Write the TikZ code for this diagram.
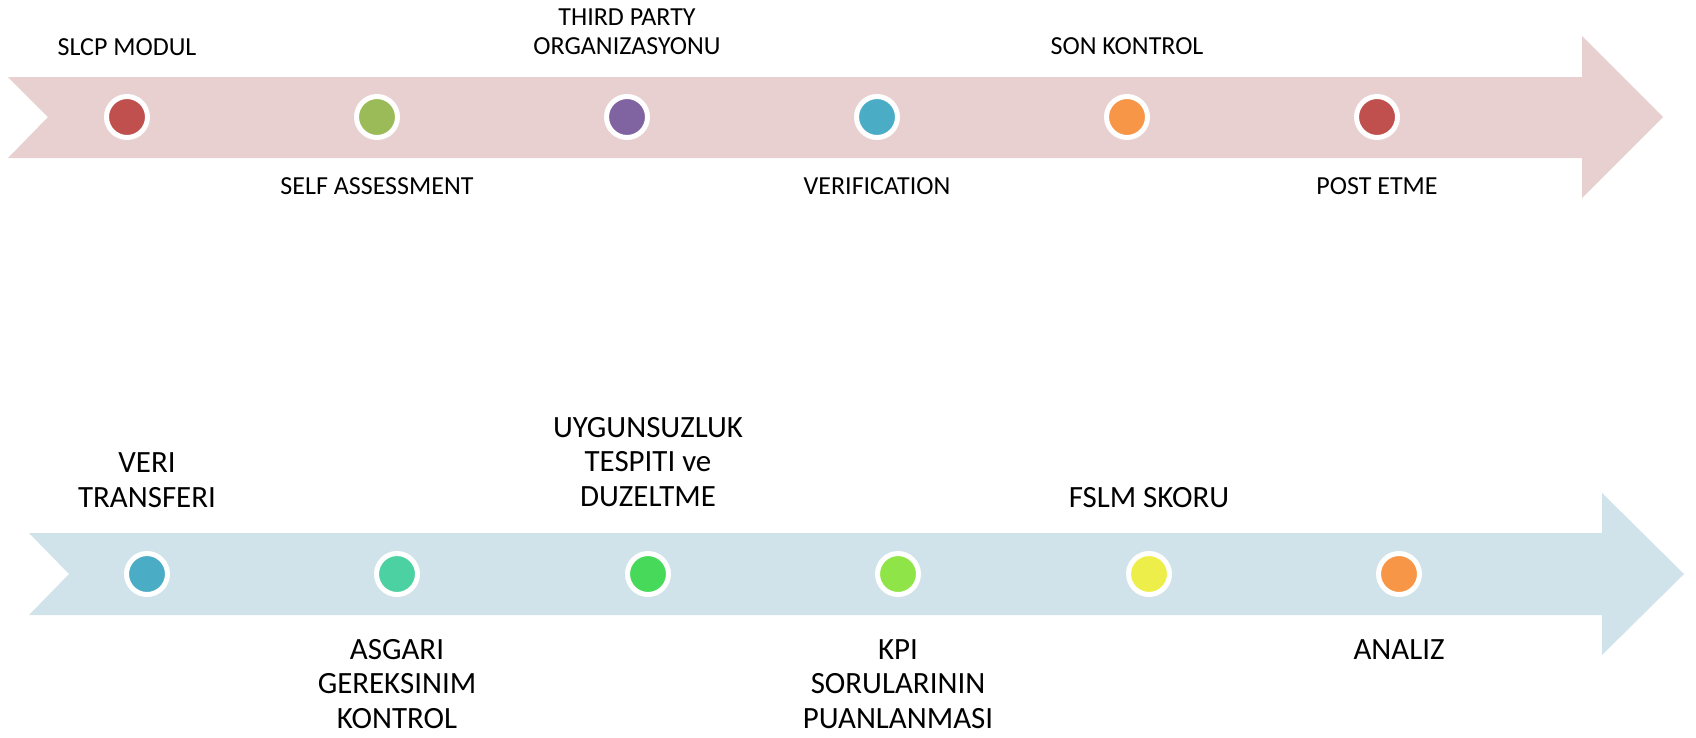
\documentclass[tikz,border=0pt]{standalone}
\usepackage{fontspec}
\setmainfont{Carlito}
\definecolor{pembe}{HTML}{E8D0D1}
\definecolor{acikmavi}{HTML}{D0E3EA}
\definecolor{kirmizi}{HTML}{C0504D}
\definecolor{yesil}{HTML}{9BBB59}
\definecolor{mor}{HTML}{8064A2}
\definecolor{mavi}{HTML}{4BACC6}
\definecolor{turuncu}{HTML}{F79646}
\definecolor{camgobegi}{HTML}{4BD1A2}
\definecolor{cimen}{HTML}{46D95A}
\definecolor{fistik}{HTML}{8FE547}
\definecolor{sari}{HTML}{EEEE4A}
\tikzset{
  nokta/.style={circle,draw=white,line width=0.1cm,minimum size=0.82cm,inner sep=0pt},
  ustyazi/.style={font=\fontsize{14.8}{16.4}\selectfont,align=center,inner sep=0pt,anchor=base},
  altyazi/.style={font=\fontsize{17.6}{19.6}\selectfont,align=center,inner sep=0pt,anchor=base}
}
\begin{document}
\begin{tikzpicture}[x=0.02cm,y=-0.02cm]
\useasboundingbox (0,0) rectangle (1696,737);
%Ok 1
\fill[pembe] (8,77) -- (1582,77) -- (1582,36) -- (1663,117) -- (1582,198) -- (1582,158) -- (8,158) -- (48,117) -- cycle;
%Ok 2
\fill[acikmavi] (29,533) -- (1602,533) -- (1602,493) -- (1684,574) -- (1602,655) -- (1602,615) -- (29,615) -- (69,574) -- cycle;
%Noktalar 1
\foreach \i/\x/\c in {1/127/kirmizi,2/377/yesil,3/627/mor,4/877/mavi,5/1127/turuncu,6/1377/kirmizi}
  \node[nokta,fill=\c] (u\i) at (\x,117) {};
%Noktalar 2
\foreach \i/\x/\c in {1/147/mavi,2/397/camgobegi,3/648/cimen,4/898/fistik,5/1149/sari,6/1399/turuncu}
  \node[nokta,fill=\c] (a\i) at (\x,574) {};
%Yazilar 1
\node[ustyazi] (tu1) at (127,55) {SLCP MODUL};
\node[ustyazi] (tu2) at (377,194) {SELF ASSESSMENT};
\node[ustyazi] (tu3) at (627,54) {THIRD PARTY\\ORGANIZASYONU};
\node[ustyazi] (tu4) at (877,194) {VERIFICATION};
\node[ustyazi] (tu5) at (1127,54) {SON KONTROL};
\node[ustyazi] (tu6) at (1377,194) {POST ETME};
%Yazilar 2
\node[altyazi] (ta1) at (147,507) {VERI\\TRANSFERI};
\node[altyazi] (ta2) at (397,728) {ASGARI\\GEREKSINIM\\KONTROL};
\node[altyazi] (ta3) at (648,506) {UYGUNSUZLUK\\TESPITI ve\\DUZELTME};
\node[altyazi] (ta4) at (898,728) {KPI\\SORULARININ\\PUANLANMASI};
\node[altyazi] (ta5) at (1149,507) {FSLM SKORU};
\node[altyazi] (ta6) at (1399,659) {ANALIZ};
\end{tikzpicture}
\end{document}
